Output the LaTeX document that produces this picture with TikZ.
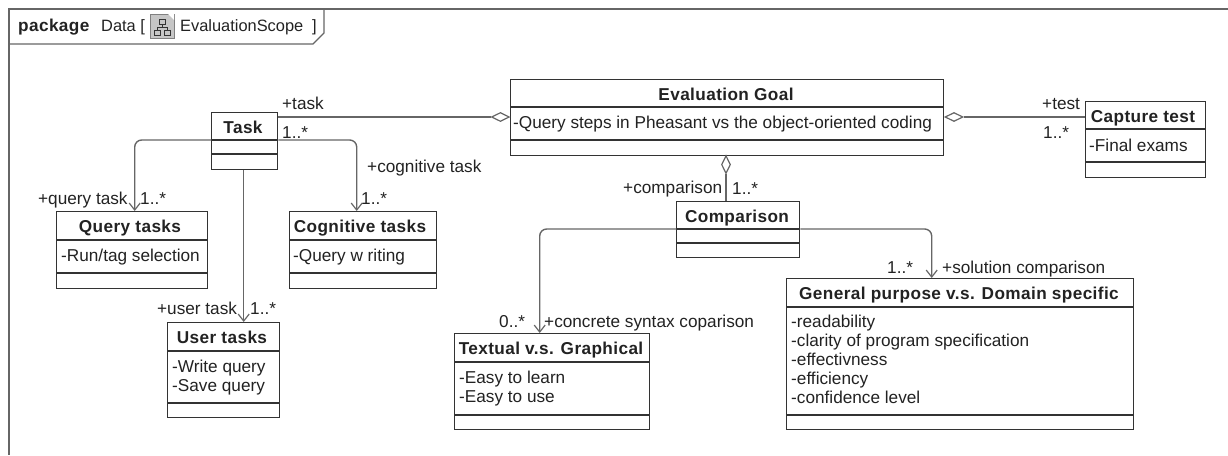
\documentclass[tikz,border=0pt]{standalone}
\usepackage{fontspec}
\setmainfont{Liberation Sans}
\newfontfamily\ttlfont[LetterSpace=2.3]{Liberation Sans}
\usetikzlibrary{arrows.meta,shapes.geometric,calc}
\definecolor{boxline}{HTML}{333333}
\definecolor{conn}{HTML}{666666}
\definecolor{txt}{HTML}{222222}
\tikzset{
  umlbox/.style={draw=boxline,line width=1.4pt,fill=white,inner sep=0pt,anchor=north west},
  sep/.style={draw=boxline,line width=1.4pt},
  conline/.style={draw=conn,line width=1.4pt,rounded corners=7pt},
  nav/.style={conline,-{Straight Barb[length=7pt,width=11pt,line width=1.2pt]}},
  hdiam/.style={diamond,aspect=2,draw=conn,fill=white,line width=1.2pt,inner sep=0pt,minimum width=18pt,minimum height=9pt},
  vdiam/.style={diamond,aspect=0.5,draw=conn,fill=white,line width=1.2pt,inner sep=0pt,minimum width=9pt,minimum height=18pt},
  lab/.style={inner sep=0pt,font=\fontsize{17.2}{19}\selectfont,text=txt,anchor=base west},
  ttl/.style={inner sep=0pt,font=\fontsize{17.2}{19}\ttlfont\bfseries,text=txt,anchor=base}
}
\begin{document}
\begin{tikzpicture}[x=1pt,y=-1pt]
\useasboundingbox (0,0) rectangle (1228,455);
% frame
\draw[draw=conn,line width=1.4pt] (1228,9) -- (9,9) -- (9,455);
\draw[draw=conn,line width=1.4pt] (9,44) -- (313,44) -- (324,33) -- (324,9);
\node[lab,font=\fontsize{17.2}{19}\ttlfont\bfseries] (kw) at (18,31) {package};
\node[lab,font=\fontsize{16.4}{19}\selectfont] (dn) at (101,31) {Data [};
\node[lab,font=\fontsize{16.4}{19}\selectfont] (sn) at (180,31) {EvaluationScope};
\node[lab,font=\fontsize{16.4}{19}\selectfont] (br) at (312,31) {]};
% icon
\fill[gray!45,draw=gray] (150,14) rectangle (174,38);
\fill[white] (168,14) -- (174,20) -- (174,14) -- cycle;
\draw[boxline,line width=.7pt] (159,19) rectangle (165,24) (154,30) rectangle (160,35) (164,30) rectangle (170,35) (162,24) -- (162,27) (157,30) -- (157,27) -- (167,27) -- (167,30);
% boxes
\node[umlbox,minimum width=433pt,minimum height=76pt] (goal) at (510,79) {};
\node[umlbox,minimum width=120pt,minimum height=76pt] (cap) at (1085,101) {};
\node[umlbox,minimum width=66pt,minimum height=57pt] (task) at (211,112) {};
\node[umlbox,minimum width=123pt,minimum height=56pt] (cmp) at (676,201) {};
\node[umlbox,minimum width=151pt,minimum height=77pt] (qt) at (56,211) {};
\node[umlbox,minimum width=147pt,minimum height=77pt] (ct) at (289,211) {};
\node[umlbox,minimum width=112pt,minimum height=95pt] (ut) at (167,322) {};
\node[umlbox,minimum width=195pt,minimum height=96pt] (tg) at (454,333) {};
\node[umlbox,minimum width=347pt,minimum height=151pt] (gd) at (786,278) {};
% compartments
\draw[sep] (510,107) -- (943,107) (510,140) -- (943,140);
\draw[sep] (1085,129) -- (1205,129) (1085,162) -- (1205,162);
\draw[sep] (211,140) -- (277,140) (211,154) -- (277,154);
\draw[sep] (676,229) -- (799,229) (676,243) -- (799,243);
\draw[sep] (56,240) -- (207,240) (56,273) -- (207,273);
\draw[sep] (289,240) -- (436,240) (289,273) -- (436,273);
\draw[sep] (167,351) -- (279,351) (167,403) -- (279,403);
\draw[sep] (454,362) -- (649,362) (454,415) -- (649,415);
\draw[sep] (786,307) -- (1133,307) (786,415) -- (1133,415);
% titles
\node[ttl] (tgoal) at (726,100) {Evaluation Goal};
\node[ttl] (tcap) at (1143,122) {Capture test};
\node[ttl] (ttask) at (243,133) {Task};
\node[ttl] (tcmp) at (737,222) {Comparison};
\node[ttl] (tqt) at (130,232) {Query tasks};
\node[ttl] (tct) at (360,232) {Cognitive tasks};
\node[ttl] (tut) at (222,343) {User tasks};
\node[ttl] (ttg) at (551,354) {Textual v.s. Graphical};
\node[ttl] (tgd) at (959,299) {General purpose v.s. Domain specific};
% attributes
\node[lab] (agoal) at (513,128) {-Query steps in Pheasant vs the object-oriented coding};
\node[lab] (acap) at (1089,151) {-Final exams};
\node[lab] (aqt) at (61,261) {-Run/tag selection};
\node[lab] (act) at (293,261) {-Query w riting};
\node[lab] (aut1) at (172,372) {-Write query};
\node[lab] (aut2) at (172,391) {-Save query};
\node[lab] (atg1) at (459,383) {-Easy to learn};
\node[lab] (atg2) at (459,402) {-Easy to use};
\node[lab] (agd1) at (791,327) {-readability};
\node[lab] (agd2) at (791,346) {-clarity of program specification};
\node[lab] (agd3) at (791,365) {-effectivness};
\node[lab] (agd4) at (791,384) {-efficiency};
\node[lab] (agd5) at (791,403) {-confidence level};
% connectors
\node[hdiam,anchor=east] (d1) at ($(goal.north west)+(0,38)$) {};
\draw[conline] (task.east |- d1.west) -- (d1.west);
\node[hdiam,anchor=west] (d2) at ($(goal.north east)+(0,38)$) {};
\draw[conline] (d2.east) -- (cap.west |- d2.east);
\node[vdiam,anchor=north] (d3) at (726,155) {};
\draw[conline] (d3.south) -- (cmp.north -| d3.south);
\draw[nav] ($(task.north west)+(0,28)$) -| ($(qt.north)+(2.5,0)$);
\draw[nav] ($(task.north east)+(0,28)$) -| ($(ct.north)+(-6.5,0)$);
\draw[nav] ($(task.south)+(-1,0)$) -- ($(ut.north)+(20,0)$);
\draw[nav] ($(cmp.north west)+(0,28)$) -| ($(tg.north)+(-12.5,0)$);
\draw[nav] ($(cmp.north east)+(0,28)$) -| ($(gd.north)+(-28.5,0)$);
% labels
\node[lab] (l1) at (282,109) {+task};
\node[lab] (l2) at (282,138) {1..*};
\node[lab] (l3) at (1042,109) {+test};
\node[lab] (l4) at (1043,138) {1..*};
\node[lab] (l5) at (623,193) {+comparison};
\node[lab] (l6) at (732,194) {1..*};
\node[lab] (l7) at (367,172) {+cognitive task};
\node[lab] (l8) at (361,204) {1..*};
\node[lab] (l9) at (38,204) {+query task};
\node[lab] (l10) at (140,204) {1..*};
\node[lab] (l11) at (157,314) {+user task};
\node[lab] (l12) at (250,314) {1..*};
\node[lab] (l13) at (499,327) {0..*};
\node[lab] (l14) at (544,327) {+concrete syntax coparison};
\node[lab] (l15) at (887,273) {1..*};
\node[lab] (l16) at (942,273) {+solution comparison};
\end{tikzpicture}
\end{document}
